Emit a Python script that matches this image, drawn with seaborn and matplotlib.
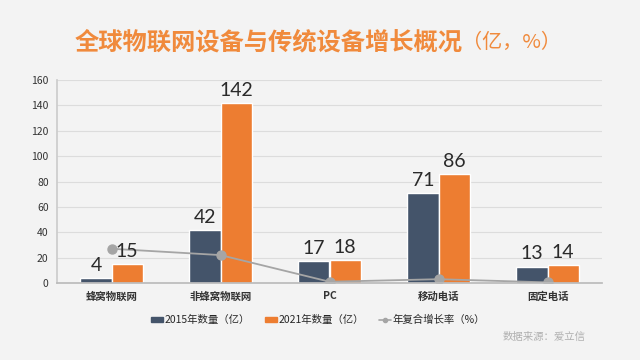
import matplotlib
matplotlib.use("Agg")
import matplotlib.pyplot as plt
import seaborn as sns
import pandas as pd
from matplotlib.lines import Line2D
from matplotlib.patches import Patch

categories = ["蜂窝物联网", "非蜂窝物联网", "PC", "移动电话", "固定电话"]
count_2015 = [4, 42, 17, 71, 13]
count_2021 = [15, 142, 18, 86, 14]
cagr = [27, 22, 1, 3, 0.5]
series_names = ["2015年数量（亿）", "2021年数量（亿）", "年复合增长率（%）"]
yticks = [0, 20, 40, 60, 80, 100, 120, 140, 160]

sns.set_theme(style="white")
plt.rcParams['font.family'] = ['Noto Sans CJK SC', 'DejaVu Sans']

bg = "#f3f3f3"
dark = "#44546a"
orange = "#ed7d31"
gray = "#a5a5a5"

df = pd.DataFrame({
    "cat": categories * 2,
    "val": count_2015 + count_2021,
    "series": [series_names[0]] * 5 + [series_names[1]] * 5,
})

fig = plt.figure(figsize=(6.4, 3.6), dpi=100, facecolor=bg)
ax = fig.add_axes([57/640, 1-283/360, (602-57)/640, (283-80)/360])
ax.set_facecolor(bg)

sns.barplot(data=df, x="cat", y="val", hue="series", order=categories,
            hue_order=series_names[:2], palette=[dark, orange],
            width=0.57, gap=0, saturation=1, ax=ax, legend=False, errorbar=None)
sns.pointplot(x=categories, y=cagr, color=gray, markers="o", ax=ax,
              markersize=6.5, linewidth=1.3, errorbar=None)

for cont in ax.containers:
    ax.bar_label(cont, labels=[f"{v:g}" for v in cont.datavalues], padding=3,
                 fontsize=14, color="#2a2a2a", family=["Lato", "DejaVu Sans"],
                 fontweight="normal", zorder=5)

ax.set_ylim(0, 160)
ax.set_yticks(yticks)
ax.set_xlim(-0.5, 4.5)
ax.yaxis.grid(True, color="#dcdcdc", linewidth=0.8)
ax.set_axisbelow(True)
ax.set_xlabel("")
ax.set_ylabel("")
for s in ["top", "right"]:
    ax.spines[s].set_visible(False)
ax.spines["left"].set_color("#cccccc")
ax.spines["bottom"].set_color("#bbbbbb")
ax.tick_params(axis="y", labelsize=7.5, colors="#333333", length=0, pad=6)
ax.tick_params(axis="x", labelsize=7.5, colors="#333333", length=0, pad=6)
for t in ax.get_xticklabels():
    t.set_fontweight("bold")

fig.text(0.117, 0.883, "全球物联网设备与传统设备增长概况", fontsize=17.5, fontweight="bold",
         color="#f08a3c", ha="left", va="center")
fig.text(0.722, 0.883, "（亿，%）", fontsize=14.5, color="#f08a3c", ha="left", va="center")

handles = [Patch(color=dark), Patch(color=orange),
           Line2D([0], [0], color=gray, marker="o", markersize=3, linewidth=1.2)]
fig.legend(handles, series_names, loc="center", bbox_to_anchor=(0.497, 1-320/360),
           ncol=3, frameon=False, fontsize=7.5, handlelength=1.2, handleheight=0.35,
           columnspacing=1.4, handletextpad=0.15)

fig.text(0.915, 1-337/360, "数据来源：爱立信", fontsize=7.5, color="#b0b0b0",
         ha="right", va="center")

fig.savefig("out.png", dpi=100, facecolor=bg)
